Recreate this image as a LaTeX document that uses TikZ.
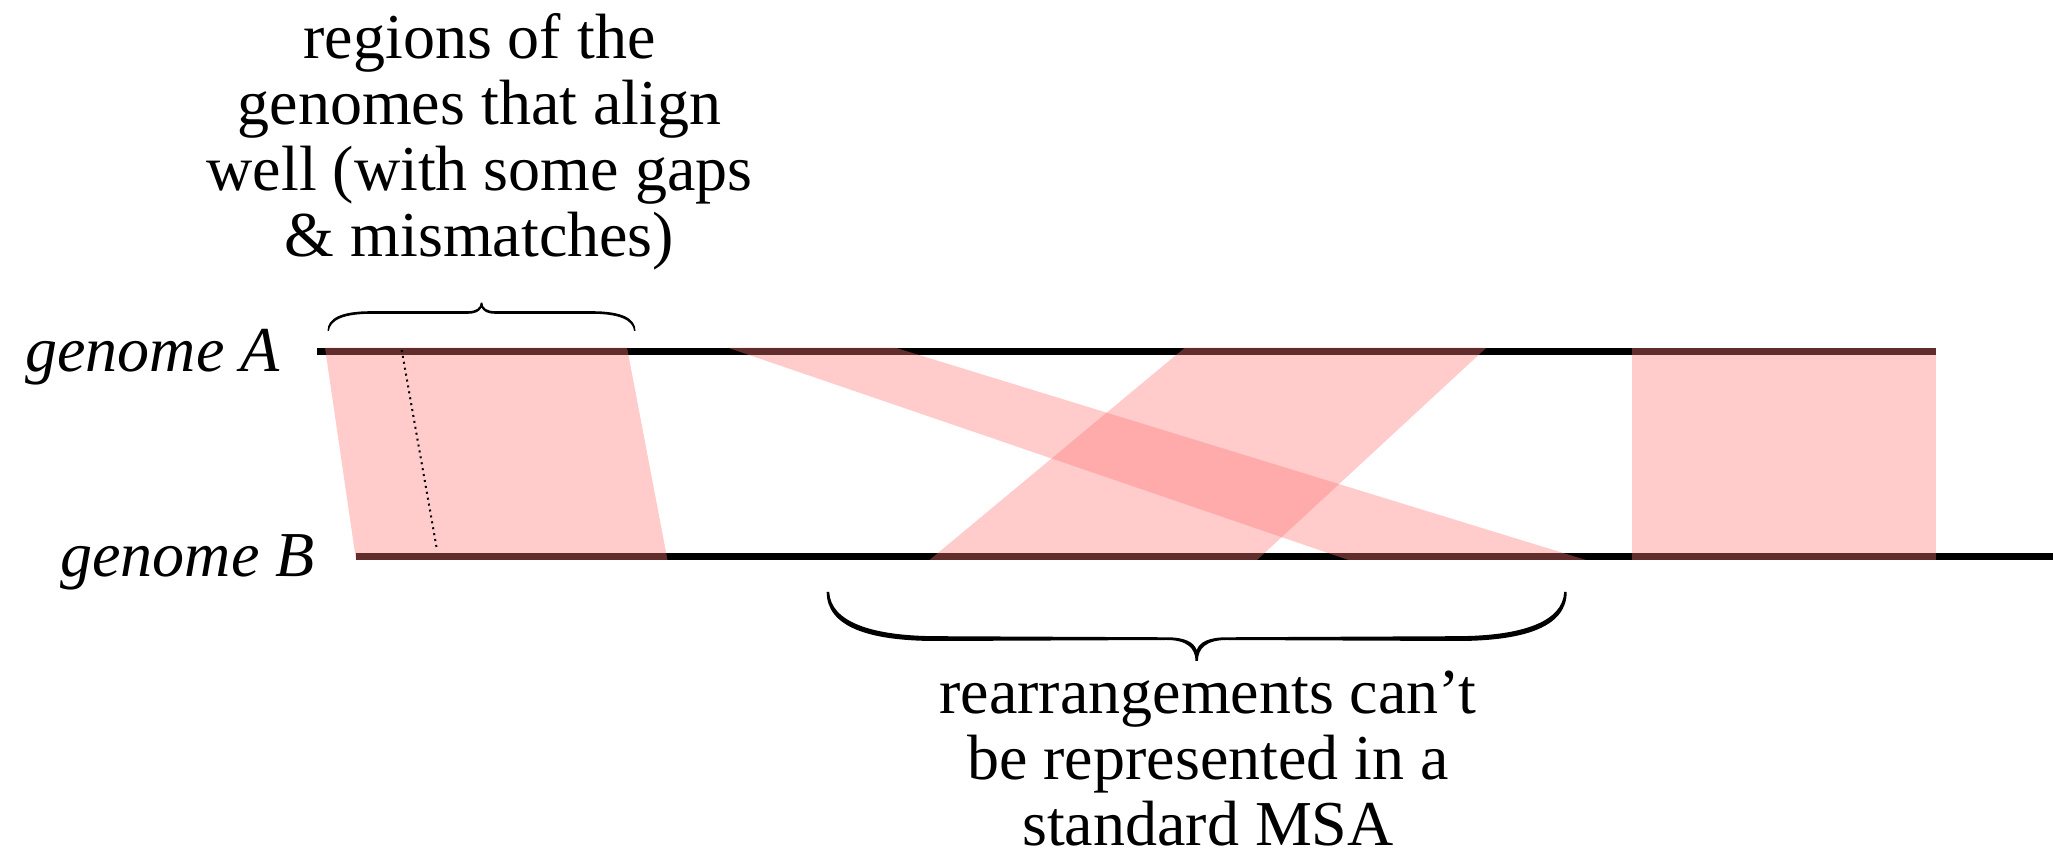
\documentclass[tikz,border=0pt]{standalone}
\usepackage{fontspec}
\setmainfont{Liberation Serif}
\begin{document}
\begin{tikzpicture}[x=0.5pt,y=-0.5pt,
  genome/.style={line width=3.75pt,black},
  alignfill/.style={fill={rgb,255:red,255;green,118;blue,118},fill opacity=0.38,draw=none},
  label/.style={inner sep=0pt,font=\fontsize{32}{33}\selectfont},
  caption/.style={inner sep=0pt,align=center,font=\fontsize{32}{33}\selectfont},
  bracefill/.style={fill=black,draw=none}]
\useasboundingbox (0,0) rectangle (2053,854);
% genome lines
\draw[genome] (317,351.5) -- (1936,351.5);
\draw[genome] (356,556.3) -- (2053,556.3);
% aligned regions
\path[alignfill] (325,347.6) -- (627,347.6) -- (667.5,560) -- (356,560) -- cycle;
\path[alignfill] (727.5,347.6) -- (895,347.6) -- (1586,560) -- (1348.5,560) -- cycle;
\path[alignfill] (1185,347.6) -- (1486.5,347.6) -- (1257,560) -- (929.5,560) -- cycle;
\path[alignfill] (1632,347.6) -- (1936,347.6) -- (1936,560) -- (1632,560) -- cycle;
% gap line
\draw[line width=1pt,dash pattern=on 1pt off 2pt] (401.7,350) -- (436.7,548.3);
% labels
\node[label,anchor=base east] (gA) at (280,371.7) {\itshape genome A};
\node[label,anchor=base east] (gB) at (315,576.7) {\itshape genome B};
% top brace
\begin{scope}[shift={(481.5,0)}]
\path[bracefill] (-154,331) .. controls (-154,318) and (-140,311.2) .. (-110,311.2) -- (-14,311.2)
  .. controls (-5,311.2) and (-1,308) .. (-0.8,302.7) -- (0.8,302.7)
  .. controls (1,308) and (5,311.2) .. (14,311.2) -- (110,311.2)
  .. controls (140,311.2) and (154,318) .. (154,331) -- (152.6,331)
  .. controls (151.5,320) and (138,313.8) .. (110,313.8) -- (14,313.8)
  .. controls (6,313.8) and (2,311.5) .. (0,307.5)
  .. controls (-2,311.5) and (-6,313.8) .. (-14,313.8) -- (-110,313.8)
  .. controls (-138,313.8) and (-151.5,320) .. (-152.6,331) -- cycle;
\end{scope}
% bottom brace
\begin{scope}[shift={(1196.7,0)}]
\path[bracefill] (-370,592) .. controls (-370,626) and (-330,641) .. (-260,641) -- (-30,640)
  .. controls (-10,640) and (-1.2,648) .. (-1.2,661) -- (1.2,661)
  .. controls (1.2,648) and (10,640) .. (30,640) -- (260,641)
  .. controls (330,641) and (370,626) .. (370,592) -- (367.5,592)
  .. controls (366,622) and (325,636) .. (260,636.2) -- (30,637.3)
  .. controls (12,637.3) and (3,642) .. (0,650)
  .. controls (-3,642) and (-12,637.3) .. (-30,637.3) -- (-260,636.2)
  .. controls (-325,636) and (-366,622) .. (-367.5,592) -- cycle;
\end{scope}
% captions
\node[caption,anchor=north] (top) at (479.5,13.3) {regions of the\\genomes that align\\well (with some gaps\\\& mismatches)};
\node[caption,anchor=north] (bottom) at (1208,670.7) {rearrangements can’t\\be represented in a\\standard MSA};
\end{tikzpicture}
\end{document}
